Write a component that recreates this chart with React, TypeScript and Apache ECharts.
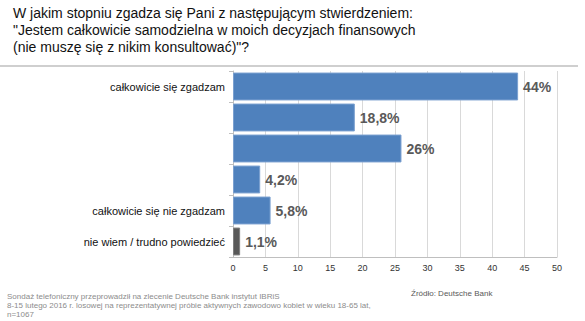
import React, { useEffect, useRef } from "react";
import * as echarts from "echarts";

const categories = [
  "całkowicie się zgadzam",
  "",
  "",
  "",
  "całkowicie się nie zgadzam",
  "nie wiem / trudno powiedzieć",
];
const values = [44, 18.8, 26, 4.2, 5.8, 1.1];
const valueLabels = ["44%", "18,8%", "26%", "4,2%", "5,8%", "1,1%"];
const barColors = ["#4F81BD", "#4F81BD", "#4F81BD", "#4F81BD", "#4F81BD", "#595959"];
const titleLines = [
  "W jakim stopniu zgadza się Pani z następującym stwierdzeniem:",
  "\"Jestem całkowicie samodzielna w moich decyzjach finansowych",
  "(nie muszę się z nikim konsultować)\"?",
];
const footLines = [
  "Sondaż telefoniczny przeprowadził na zlecenie Deutsche Bank instytut IBRiS",
  "8-15 lutego 2016 r. losowej na reprezentatywnej próbie aktywnych zawodowo kobiet w wieku 18-65 lat,",
  "n=1067",
];
const sourceText = "Źródło: Deutsche Bank";

export default function App() {
  const ref = useRef<HTMLDivElement>(null);
  useEffect(() => {
    const chart = echarts.init(ref.current!, null, { renderer: "svg" });
    chart.setOption({
      animation: false,
      backgroundColor: "#ffffff",
      grid: { left: 233, right: 28, top: 71, height: 186 },
      xAxis: {
        type: "value",
        min: 0,
        max: 50,
        interval: 5,
        axisLine: { show: true, lineStyle: { color: "#BFBFBF" } },
        axisTick: { show: false },
        axisLabel: { color: "#333", fontSize: 9, fontFamily: "Liberation Sans, Arial", margin: 6 },
        splitLine: { show: true, lineStyle: { color: "#D9D9D9" } },
      },
      yAxis: {
        type: "category",
        data: categories,
        inverse: true,
        axisLine: { show: true, lineStyle: { color: "#BFBFBF" } },
        axisTick: { show: true, length: 4, lineStyle: { color: "#BFBFBF" } },
        axisLabel: { color: "#111", fontSize: 11, fontFamily: "Liberation Sans, Arial", margin: 8 },
      },
      series: [
        {
          type: "bar",
          barCategoryGap: "10%",
          data: values.map((v, i) => ({
            value: v,
            itemStyle: {
              color: barColors[i],
              borderColor: i === 5 ? "#7F7F7F" : "#7BA0D0",
              borderWidth: 1,
            },
          })),
          label: {
            show: true,
            position: "right",
            distance: 5,
            formatter: (p: any) => valueLabels[p.dataIndex],
            color: "#595959",
            fontSize: 14,
            fontWeight: "bold",
            fontFamily: "Liberation Sans, Arial",
          },
        },
      ],
      graphic: [
        ...titleLines.map((t, i) => ({
          type: "text",
          left: 13,
          top: 6 + i * 17,
          style: { text: t, fontSize: 14, fill: "#111", fontFamily: "Liberation Sans, Arial" },
        })),
        {
          type: "line",
          shape: { x1: 0, y1: 66, x2: 578, y2: 66 },
          style: { stroke: "#BFBFBF", lineWidth: 1.5 },
        },
        ...footLines.map((t, i) => ({
          type: "text",
          left: 7,
          top: 292 + i * 9,
          style: { text: t, fontSize: 8, fill: "#8C8C8C", fontFamily: "Liberation Sans, Arial" },
        })),
        {
          type: "text",
          left: 411,
          top: 289,
          style: { text: sourceText, fontSize: 8, fill: "#595959", fontFamily: "Liberation Sans, Arial" },
        },
      ],
    });
    return () => chart.dispose();
  }, []);
  return <div ref={ref} style={{ width: 585, height: 321, position: "absolute", left: 0, top: 0 }} />;
}
